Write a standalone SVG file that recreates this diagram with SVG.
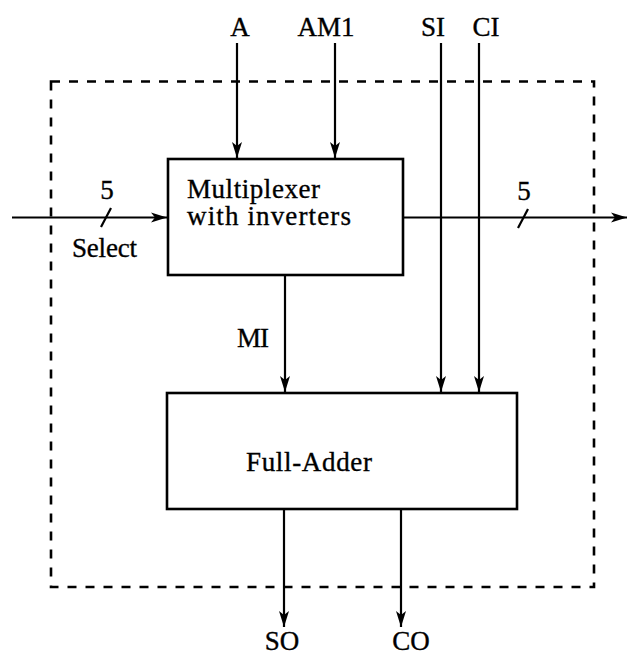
<svg xmlns="http://www.w3.org/2000/svg" width="627" height="656" viewBox="0 0 627 656">
<style>
text{font-family:"Liberation Serif","Times New Roman",serif;font-size:27px;fill:#000;stroke:#000;stroke-width:0.35}
.box{fill:#fff;stroke:#000;stroke-width:2.6}
.frame{fill:none;stroke:#000;stroke-width:2.6;stroke-dasharray:9 9}
.w{fill:none;stroke:#000;stroke-width:2.2}
.arr{marker-end:url(#ah)}
.mid{text-anchor:middle}
</style>
<defs>
<marker id="ah" viewBox="-16 -6 17 12" refX="0" refY="0" markerWidth="17" markerHeight="12" markerUnits="userSpaceOnUse" orient="auto">
<path d="M0,0 L-16,-5 L-12,0 L-16,5 Z" fill="#000"/>
</marker>
</defs>
<rect id="boundary" class="frame" x="51" y="81.5" width="543" height="505.5"/>
<g id="mux">
<rect class="box" x="168" y="159" width="235" height="116"/>
<text x="187" y="198" textLength="133">Multiplexer</text>
<text x="187" y="225" textLength="164">with inverters</text>
</g>
<g id="adder">
<rect class="box" x="167" y="393" width="350" height="116"/>
<text x="246" y="471" textLength="126">Full-Adder</text>
</g>
<g id="connectors">
<line class="w arr" x1="237" y1="43" x2="237" y2="158"/>
<line class="w arr" x1="335" y1="43" x2="335" y2="158"/>
<line class="w arr" x1="441" y1="43" x2="441" y2="392"/>
<line class="w arr" x1="479" y1="43" x2="479" y2="392"/>
<line class="w arr" x1="12" y1="217.5" x2="167" y2="217.5"/>
<line class="w arr" x1="403" y1="217.5" x2="627" y2="217.5"/>
<line class="w arr" x1="285" y1="275" x2="285" y2="392"/>
<line class="w arr" x1="284" y1="509" x2="284" y2="627"/>
<line class="w arr" x1="401" y1="509" x2="401" y2="627"/>
<line class="w" x1="101" y1="227" x2="111" y2="208"/>
<line class="w" x1="518" y1="228" x2="528" y2="209"/>
</g>
<g id="labels">
<text class="mid" x="240" y="36">A</text>
<text class="mid" x="326" y="36">AM1</text>
<text class="mid" x="433" y="36">SI</text>
<text class="mid" x="486" y="36">CI</text>
<text class="mid" x="107" y="199">5</text>
<text class="mid" x="524" y="200">5</text>
<text x="72" y="257" textLength="65">Select</text>
<text x="237" y="347" textLength="32">MI</text>
<text class="mid" x="282" y="650">SO</text>
<text class="mid" x="411" y="650">CO</text>
</g>
</svg>
